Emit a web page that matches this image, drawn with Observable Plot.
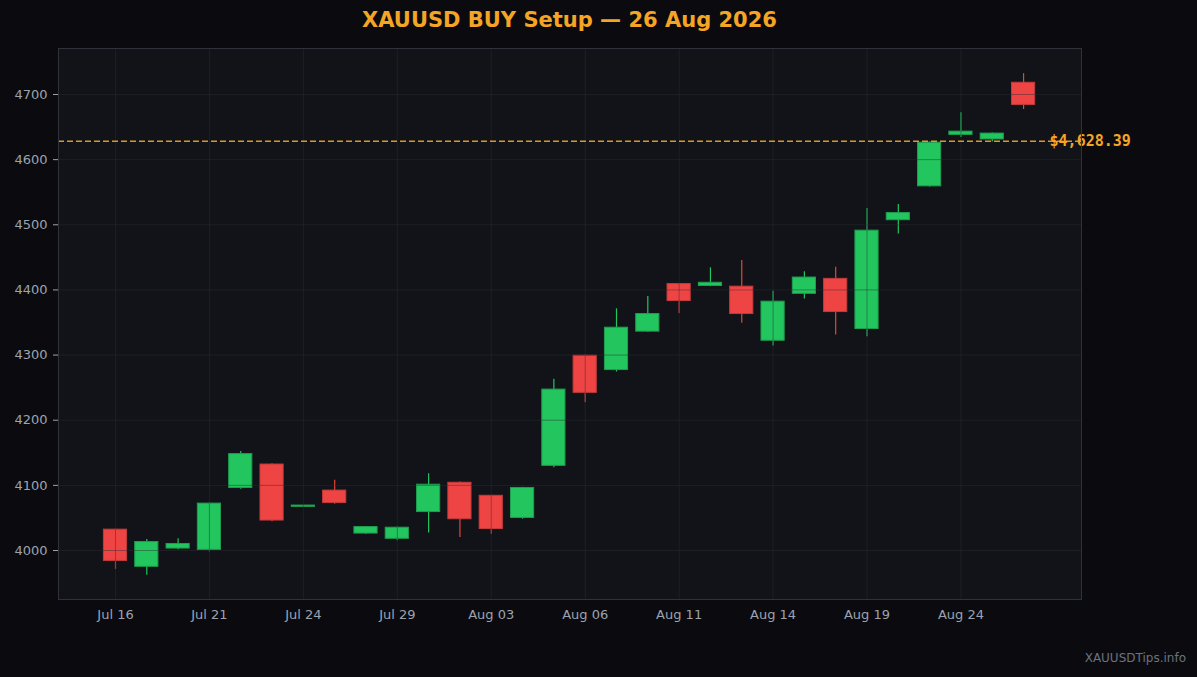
<!DOCTYPE html>
<html>
<head>
<meta charset="utf-8">
<script src="https://cdn.jsdelivr.net/npm/d3@7"></script>
<script src="https://cdn.jsdelivr.net/npm/@observablehq/plot@0.6"></script>
<style>
  html, body { margin: 0; padding: 0; background: #0b0b0f; }
  #wrap { position: relative; width: 1197px; height: 677px; overflow: hidden; background: #0b0b0f; }
  #title { position: absolute; left: 58px; width: 1023px; top: 5px; height: 30px; line-height: 30px; text-align: center;
           font-family: "DejaVu Sans", sans-serif; font-weight: bold; font-size: 21px; color: #f5a524; }
  #chart { position: absolute; left: 0; top: 40px; }
  #credit { position: absolute; right: 11px; top: 651px; font-family: "DejaVu Sans", sans-serif; font-size: 12px; color: #6b7280; }
</style>
</head>
<body>
<div id="wrap">
  <div id="title">XAUUSD BUY Setup — 26 Aug 2026</div>
  <div id="chart"></div>
  <div id="credit">XAUUSDTips.info</div>
</div>
<script>
const dates = ["Jul 16","Jul 17","Jul 20","Jul 21","Jul 22","Jul 23","Jul 24","Jul 27","Jul 28","Jul 29","Jul 30","Jul 31",
  "Aug 03","Aug 04","Aug 05","Aug 06","Aug 07","Aug 10","Aug 11","Aug 12","Aug 13","Aug 14","Aug 17","Aug 18","Aug 19",
  "Aug 20","Aug 21","Aug 24","Aug 25","Aug 26"];
const open  = [4032,3975,4003,4001,4096,4132,4067,4092,4026,4018,4059,4104,4084,4050,4130,4299,4277,4336,4409,4406,4405,4322,4394,4417,4340,4507,4559,4638,4631,4718];
const close = [3984,4013,4010,4072,4148,4046,4069,4073,4036,4035,4101,4048,4033,4096,4247,4242,4342,4363,4383,4411,4363,4382,4419,4366,4491,4518,4626,4643,4640,4684];
const high  = [4033,4017,4018,4073,4152,4133,4069,4108,4037,4036,4118,4105,4085,4097,4263,4300,4371,4390,4410,4434,4445,4398,4428,4435,4525,4531,4627,4672,4641,4732];
const low   = [3971,3962,4001,3998,4094,4044,4067,4071,4025,4015,4027,4020,4025,4048,4127,4227,4274,4335,4364,4405,4349,4314,4386,4331,4328,4486,4558,4634,4627,4677];
const xTickIdx = [0,3,6,9,12,15,18,21,24,27];
const yTicks = [4000,4100,4200,4300,4400,4500,4600,4700];
const currentPrice = 4628.39;

const candles = dates.map((d, i) => ({i, date: d, open: open[i], close: close[i], high: high[i], low: low[i], up: close[i] >= open[i]}));
const bodies = candles.map(c => {
  const top = Math.max(c.open, c.close), bot = Math.min(c.open, c.close);
  return {...c, top, bot: top - bot < 1.5 ? top - 1.5 : bot};
});

const GREEN = "#22c55e", GREEN_EDGE = "#1f9e4f", RED = "#ef4444", RED_EDGE = "#c33b3b", RED_WICK = "#e0483a";
const hw = 0.37;

const plot = Plot.plot({
  width: 1197,
  height: 637,
  marginTop: 8,
  marginLeft: 58,
  marginRight: 116,
  marginBottom: 78,
  style: {background: "transparent", fontFamily: "DejaVu Sans, sans-serif", fontSize: "13px", color: "#9ca3af"},
  x: {type: "linear", domain: [-1.82, 30.85]},
  y: {domain: [3924.8, 4770.6]},
  marks: [
    Plot.frame({fill: "#111318", stroke: null}),
    Plot.ruleX(bodies, {x: "i", y1: "low", y2: "high", stroke: d => d.up ? GREEN : RED_WICK, strokeWidth: 1.2}),
    Plot.rect(bodies, {x1: d => d.i - hw, x2: d => d.i + hw, y1: "bot", y2: "top",
      fill: d => d.up ? GREEN : RED, stroke: d => d.up ? GREEN_EDGE : RED_EDGE, strokeWidth: 1, inset: 0}),
    Plot.gridX(xTickIdx, {stroke: "#2c2f36", strokeOpacity: 0.45, strokeWidth: 1}),
    Plot.gridY(yTicks, {stroke: "#2c2f36", strokeOpacity: 0.45, strokeWidth: 1}),
    Plot.ruleY([currentPrice], {stroke: "#f5a524", strokeWidth: 1.5, strokeDasharray: "6,3", strokeOpacity: 0.9}),
    Plot.text([currentPrice], {x: 29.83, y: d => d, text: d => "$" + d3.format(",.2f")(d), textAnchor: "start",
      fill: "#f5a524", fontWeight: "bold", fontSize: 15, fontFamily: "DejaVu Sans Mono, monospace", clip: false}),
    Plot.frame({stroke: "#2f323a", strokeWidth: 1}),
    Plot.axisX(xTickIdx, {tickSize: 0, tickPadding: 10, tickFormat: i => dates[i], fill: "#9ca3af", fontSize: 13, label: null}),
    Plot.axisY(yTicks, {tickSize: 5, tickPadding: 6, tickFormat: d => String(d), stroke: "#9ca3af", fill: "#9ca3af", fontSize: 13, label: null})
  ]
});
document.getElementById("chart").appendChild(plot);
</script>
</body>
</html>
